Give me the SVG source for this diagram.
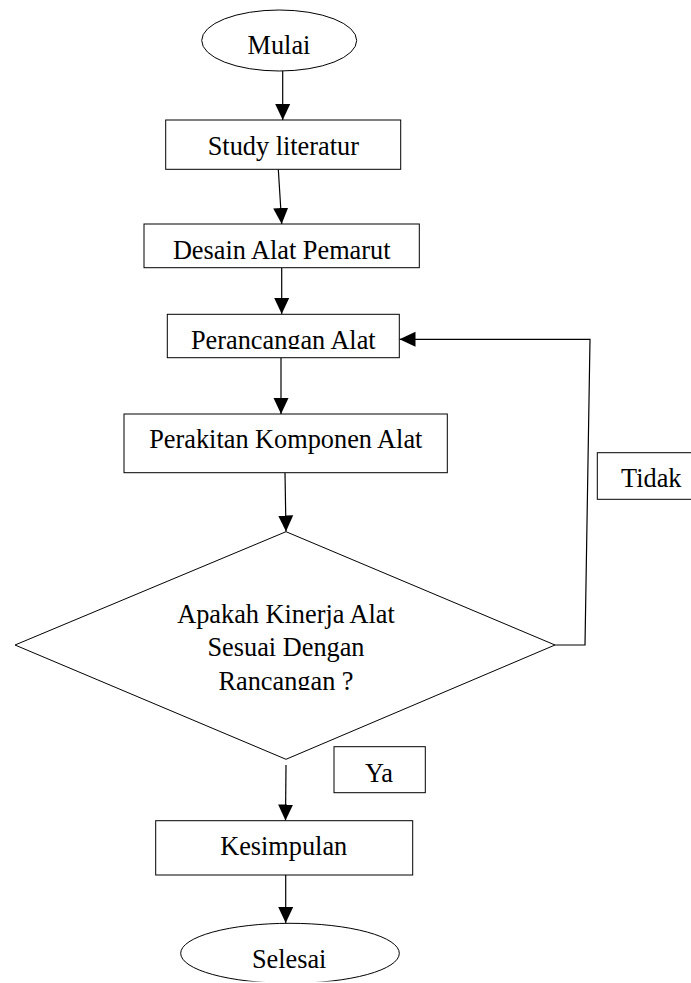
<svg xmlns="http://www.w3.org/2000/svg" width="691" height="983" viewBox="0 0 691 983">
<style>
.shape{fill:#fff;stroke:#000;stroke-width:1}
.lbl{font-family:"Liberation Serif","Times New Roman",serif;font-size:26.3px;fill:#000;text-anchor:middle}
.conn{fill:none;stroke:#000;stroke-width:1.2}
</style>
<defs>
<marker id="ah" markerUnits="userSpaceOnUse" markerWidth="17" markerHeight="16" refX="16" refY="8" orient="auto">
<path d="M0,0.5 L16,8 L0,15.5 Z" fill="#000"/>
</marker>
<clipPath id="cpPer"><rect x="160" y="300" width="250" height="49"/></clipPath>
<clipPath id="cpRan"><rect x="150" y="660" width="280" height="30"/></clipPath>
<clipPath id="cpBot"><rect x="0" y="0" width="691" height="981.5"/></clipPath>
</defs>
<rect width="691" height="983" fill="#fff"/>
<g id="connectors">
<line class="conn" x1="282.7" y1="71" x2="282.7" y2="120" marker-end="url(#ah)"/>
<line class="conn" x1="278.3" y1="169.5" x2="281.7" y2="224" marker-end="url(#ah)"/>
<line class="conn" x1="281.7" y1="268" x2="281.7" y2="314" marker-end="url(#ah)"/>
<line class="conn" x1="281" y1="358" x2="281" y2="414" marker-end="url(#ah)"/>
<line class="conn" x1="285" y1="473" x2="286" y2="531.5" marker-end="url(#ah)"/>
<line class="conn" x1="286" y1="765" x2="285.5" y2="820.5" marker-end="url(#ah)"/>
<line class="conn" x1="285.7" y1="875" x2="285.7" y2="923" marker-end="url(#ah)"/>
<polyline class="conn" points="555,645 585,645 590,339.3 399.5,339.3" marker-end="url(#ah)"/>
</g>
<g id="mulai">
<ellipse class="shape" cx="279.2" cy="40.5" rx="77.5" ry="30.5"/>
<text class="lbl" x="279" y="53.5">Mulai</text>
</g>
<g id="study">
<rect class="shape" x="165.7" y="120" width="235" height="49.3"/>
<text class="lbl" x="283.3" y="155">Study literatur</text>
</g>
<g id="desain">
<rect class="shape" x="144" y="224" width="275.3" height="43.7"/>
<text class="lbl" x="281.7" y="259.3">Desain Alat Pemarut</text>
</g>
<g id="perancangan">
<rect class="shape" x="167.3" y="314.3" width="232" height="43.4"/>
<text class="lbl" x="283.3" y="348.5" clip-path="url(#cpPer)">Perancangan Alat</text>
</g>
<g id="perakitan">
<rect class="shape" x="124" y="414" width="323.3" height="58.7"/>
<text class="lbl" x="285.8" y="448">Perakitan Komponen Alat</text>
</g>
<g id="keputusan">
<polygon class="shape" points="286,531.7 555,645 286,759.3 15,645"/>
<text class="lbl" x="286" y="622.7">Apakah Kinerja Alat</text>
<text class="lbl" x="286" y="655.7">Sesuai Dengan</text>
<text class="lbl" x="286" y="689.5" clip-path="url(#cpRan)">Rancangan ?</text>
</g>
<g id="tidak">
<rect class="shape" x="597.3" y="452.7" width="95" height="46.6"/>
<text class="lbl" x="651.3" y="487.3">Tidak</text>
</g>
<g id="ya">
<rect class="shape" x="334" y="746.7" width="91.3" height="46"/>
<text class="lbl" x="379" y="781.7">Ya</text>
</g>
<g id="kesimpulan">
<rect class="shape" x="155.7" y="820.7" width="257" height="54.3"/>
<text class="lbl" x="283.7" y="855">Kesimpulan</text>
</g>
<g id="selesai" clip-path="url(#cpBot)">
<ellipse class="shape" cx="290" cy="953.3" rx="109.3" ry="30"/>
<text class="lbl" x="289.2" y="968.3">Selesai</text>
</g>
</svg>
